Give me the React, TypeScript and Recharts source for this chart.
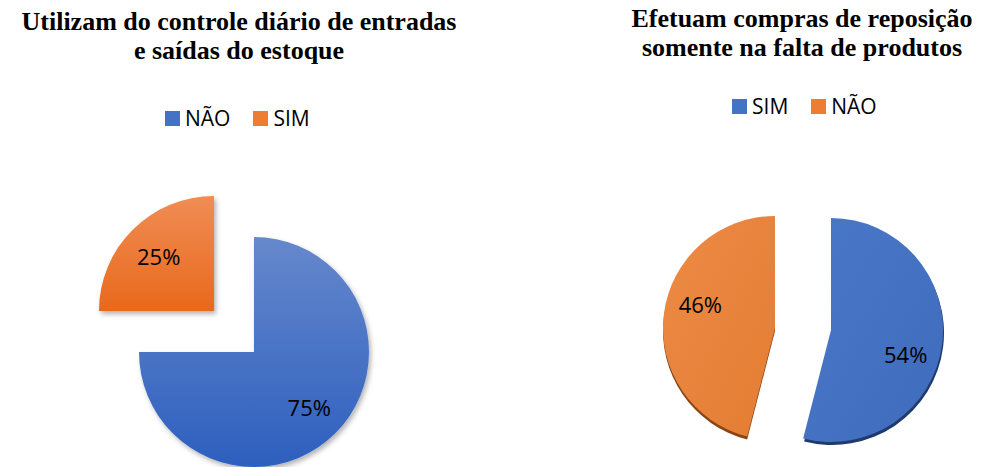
import React from 'react';
import { PieChart, Pie, Cell } from 'recharts';

// dados
const controleTitulo = ['Utilizam do controle diário de entradas', 'e saídas do estoque'];
const controleCategorias = ['NÃO', 'SIM'];
const controleValores = [75, 25];

const reposicaoTitulo = ['Efetuam compras de reposição', 'somente na falta de produtos'];
const reposicaoCategorias = ['SIM', 'NÃO'];
const reposicaoValores = [54, 46];

const AZUL = '#4472C4';
const LARANJA = '#ED7D31';

const RAD = Math.PI / 180;

const toData = (cats: string[], vals: number[]) => cats.map((name, i) => ({ name, value: vals[i] }));

const controleData = toData(controleCategorias, controleValores);
const reposicaoData = toData(reposicaoCategorias, reposicaoValores);

// rótulo só na fatia visível (cada Pie desenha uma fatia, com centro próprio = "explodida")
// giro: pequeno desvio do ângulo do rótulo no gráfico "3D"
const makeLabel = (visible: number, giro = 0, fator = 0.68) => (props: any) => {
  const { cx, cy, midAngle, outerRadius, percent, index } = props;
  if (index !== visible) return null;
  const r = outerRadius * fator;
  const ang = midAngle + giro;
  const x = cx + r * Math.cos(-ang * RAD);
  const y = cy + r * Math.sin(-ang * RAD);
  return (
    <text x={x} y={y} textAnchor="middle" dominantBaseline="central" fill="#000" fontSize={22} fontFamily="'Open Sans', sans-serif">
      {`${Math.round(percent * 100)}%`}
    </text>
  );
};

const titleStyle: React.CSSProperties = {
  position: 'absolute',
  fontFamily: "'Liberation Serif', 'Times New Roman', serif",
  fontWeight: 700,
  fontSize: 26,
  lineHeight: '29px',
  textAlign: 'center',
  color: '#000',
  whiteSpace: 'nowrap',
};

const Legenda = ({ items, colors, left, top }: { items: string[]; colors: string[]; left: number; top: number }) => (
  <div
    style={{
      position: 'absolute',
      left,
      top,
      display: 'flex',
      alignItems: 'center',
      fontFamily: "'Open Sans', sans-serif",
      fontSize: 21,
      color: '#000',
    }}
  >
    {items.map((it, i) => (
      <div key={it} style={{ display: 'flex', alignItems: 'center', marginRight: 23 }}>
        <span style={{ width: 15, height: 15, background: colors[i], display: 'inline-block', marginRight: 5 }} />
        <span>{it}</span>
      </div>
    ))}
  </div>
);

export default function App() {
  return (
    <div style={{ position: 'absolute', left: 0, top: 0, width: 982, height: 467, background: '#fff', overflow: 'hidden' }}>
      <svg width={0} height={0} style={{ position: 'absolute' }}>
        <defs>
          <linearGradient id="gAzul" x1="0" y1="0" x2="0" y2="1">
            <stop offset="0%" stopColor="#6688cc" />
            <stop offset="100%" stopColor="#2d5fbe" />
          </linearGradient>
          <linearGradient id="gLaranja" x1="0" y1="0" x2="0" y2="1">
            <stop offset="0%" stopColor="#f08d55" />
            <stop offset="100%" stopColor="#e8691b" />
          </linearGradient>
          <linearGradient id="gAzul3d" x1="0" y1="0" x2="1" y2="1">
            <stop offset="0%" stopColor="#4a78c8" />
            <stop offset="100%" stopColor="#3f6bbb" />
          </linearGradient>
          <linearGradient id="gLaranja3d" x1="0" y1="0" x2="1" y2="1">
            <stop offset="0%" stopColor="#ec8a45" />
            <stop offset="100%" stopColor="#e47d33" />
          </linearGradient>
          <filter id="sombra" x="-20%" y="-20%" width="140%" height="140%">
            <feDropShadow dx="2" dy="3" stdDeviation="2.5" floodColor="#000" floodOpacity="0.3" />
          </filter>
        </defs>
      </svg>

      <div style={{ ...titleStyle, left: 5, width: 468, top: 7 }}>
        {controleTitulo.map((t) => (
          <div key={t}>{t}</div>
        ))}
      </div>
      <div style={{ ...titleStyle, left: 590, width: 424, top: 4 }}>
        {reposicaoTitulo.map((t) => (
          <div key={t}>{t}</div>
        ))}
      </div>

      <Legenda items={controleCategorias} colors={[AZUL, LARANJA]} left={165} top={104} />
      <Legenda items={reposicaoCategorias} colors={[AZUL, LARANJA]} left={732} top={92} />

      <div style={{ position: 'absolute', left: 0, top: 0 }}>
        <PieChart width={982} height={467} margin={{ top: 0, right: 0, bottom: 0, left: 0 }}>
          {/* gráfico 1: fatias explodidas */}
          <Pie
            data={controleData}
            dataKey="value"
            cx={254}
            cy={352}
            outerRadius={115}
            startAngle={90}
            endAngle={-270}
            stroke="none"
            labelLine={false}
            label={makeLabel(0)}
            isAnimationActive={false}
            style={{ filter: 'url(#sombra)' }}
          >
            <Cell fill="url(#gAzul)" />
            <Cell fill="none" />
          </Pie>
          <Pie
            data={controleData}
            dataKey="value"
            cx={214}
            cy={311}
            outerRadius={115}
            startAngle={90}
            endAngle={-270}
            stroke="none"
            labelLine={false}
            label={makeLabel(1)}
            isAnimationActive={false}
            style={{ filter: 'url(#sombra)' }}
          >
            <Cell fill="none" />
            <Cell fill="url(#gLaranja)" />
          </Pie>

          {/* gráfico 2: borda escura (efeito 3D) */}
          <Pie
            data={reposicaoData}
            dataKey="value"
            cx={832}
            cy={333}
            outerRadius={112}
            startAngle={90}
            endAngle={-270}
            stroke="none"
            isAnimationActive={false}
          >
            <Cell fill="#1f3a6e" />
            <Cell fill="none" />
          </Pie>
          <Pie
            data={reposicaoData}
            dataKey="value"
            cx={775}
            cy={331}
            outerRadius={112}
            startAngle={90}
            endAngle={-270}
            stroke="none"
            isAnimationActive={false}
          >
            <Cell fill="none" />
            <Cell fill="#8a4514" />
          </Pie>
          <Pie
            data={reposicaoData}
            dataKey="value"
            cx={831}
            cy={330}
            outerRadius={112}
            startAngle={90}
            endAngle={-270}
            stroke="none"
            labelLine={false}
            label={makeLabel(0, -10.5, 0.7)}
            isAnimationActive={false}
          >
            <Cell fill="url(#gAzul3d)" />
            <Cell fill="none" />
          </Pie>
          <Pie
            data={reposicaoData}
            dataKey="value"
            cx={775}
            cy={328}
            outerRadius={112}
            startAngle={90}
            endAngle={-270}
            stroke="none"
            labelLine={false}
            label={makeLabel(1, -10.5, 0.7)}
            isAnimationActive={false}
          >
            <Cell fill="none" />
            <Cell fill="url(#gLaranja3d)" />
          </Pie>
        </PieChart>
      </div>
    </div>
  );
}
